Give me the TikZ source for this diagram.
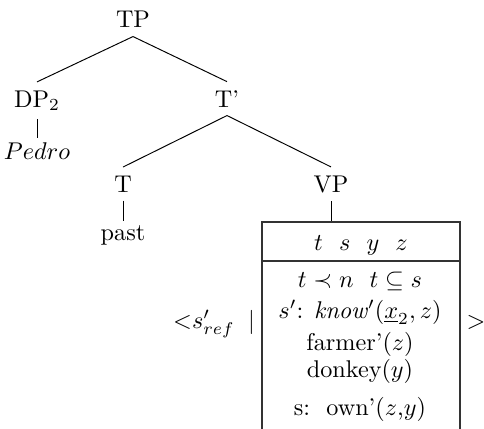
\documentclass[tikz,border=0pt]{standalone}
\usepackage{tikz}
\usetikzlibrary{positioning}
\tikzset{
	cat/.style={anchor=base}, % tree labels sit on their baseline
	branch/.style={thin}, % the tree edges
	leaf/.style={thin, shorten >=-1.8pt}, % unary edges down to the words
	drsline/.style={semithick, draw=black!80}, % the lines of the box
}

\begin{document}
\begin{tikzpicture}[x=0.413pt,y=-0.413pt]
			\useasboundingbox (0,0) rectangle (484,428);
			% the tree
			\node[cat] (tp)    at (133,28)  {TP};
			\node[cat] (dp)    at (37,107)  {DP$_2$};
			\node[cat] (pedro) at (37,159)  {$Pedro$};
			\node[cat] (tbar)  at (227,107) {T'};
			\node[cat] (t)     at (123,192) {T};
			\node[cat] (past)  at (123,240) {past};
			\node[cat] (vp)    at (331,192) {VP};
			\draw[branch] (tp.south) -- (dp.north);
			\draw[branch] (tp.south) -- (tbar.north);
			\draw[leaf] (dp.south) -- (pedro.north);
			\draw[branch] (tbar.south) -- (t.north);
			\draw[branch] (tbar.south) -- (vp.north);
			\draw[leaf] (t.south) -- (past.north);
			% the box under VP
			\coordinate (boxtop) at (331,222);
			\coordinate (nw) at (262,222);
			\coordinate (ne) at (460,222);
			\coordinate (sw) at (262,445);
			\coordinate (se) at (460,445);
			\coordinate (midw) at (262,261);
			\coordinate (mide) at (460,261);
			\draw[branch] (vp.south) -- (boxtop);
			\draw[drsline] (sw) -- (nw) -- (ne) -- (se);
			\draw[drsline] (midw) -- (mide);
			\node[cat] (refs)  at (361,250) {$t\ \ s\ \ y\ \ z$};
			\node[cat] (cond1) at (360,287) {$t \prec n\ \ t \subseteq s$};
			\node[cat] (cond2) at (360,318) {$s'$: \textit{know}$'(\underline{x}_2, z)$};
			\node[cat] (cond3) at (360,350) {farmer'$(z)$};
			\node[cat] (cond4) at (360,377) {donkey$(y)$};
			\node[cat] (cond5) at (360,415) {s:\ \ own'$(z$,$y)$};
			% the brackets round the box
			\node[cat] (open)  at (214,328) {$\mathord{<}s'_{ref}\;\mid$};
			\node[cat] (close) at (476,328) {$>$};
\end{tikzpicture}
\end{document}
